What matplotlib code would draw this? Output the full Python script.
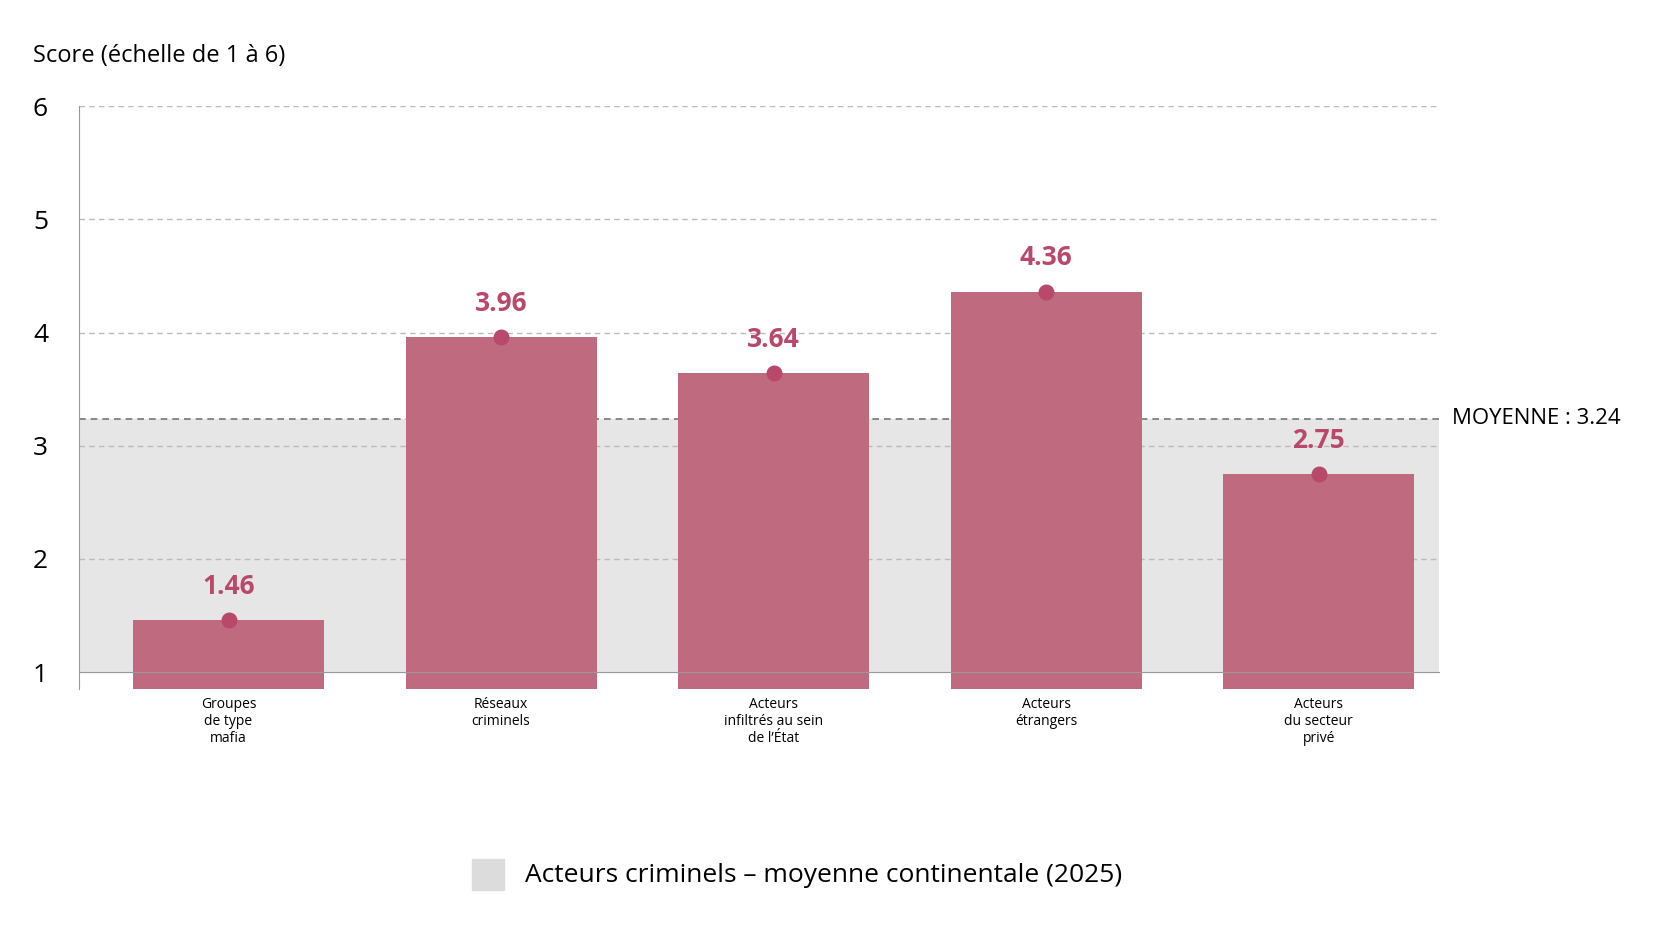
import matplotlib.pyplot as plt
from matplotlib.patches import Rectangle

categories = ["Groupes\nde type\nmafia", "Réseaux\ncriminels", "Acteurs\ninfiltrés au sein\nde l’État",
              "Acteurs\nétrangers", "Acteurs\ndu secteur\nprivé"]
scores = [1.46, 3.96, 3.64, 4.36, 2.75]
moyenne = 3.24

plt.rcParams['font.family'] = ['Open Sans', 'DejaVu Sans']
fig = plt.figure(figsize=(16.73, 9.40), dpi=100)
ax = fig.add_axes([0.047, 0.267, 0.813, 0.62])

pos = list(range(len(scores)))
ax.set_xlim(-0.55, 4.44)
ax.set_ylim(1, 6)

ax.axhspan(1, moyenne, color='#e6e6e6', zorder=0)
for y in [2, 3, 4, 5, 6]:
    ax.axhline(y, color='#bbbbbb', ls=(0, (4, 3)), lw=1, zorder=1)
ax.axhline(moyenne, color='#777777', ls=(0, (4, 3)), lw=1.2, zorder=1)

ax.bar(pos, scores, width=0.7, bottom=0, color='#c06a80', zorder=2)
ax.scatter(pos, scores, s=110, color='#b9496a', zorder=3)
for x, v in zip(pos, scores):
    ax.text(x, v + 0.18, f"{v:.2f}", ha='center', va='bottom', fontsize=19,
            fontweight='bold', color='#b9496a')

ax.text(1.01, moyenne, f"MOYENNE : {moyenne}", transform=ax.get_yaxis_transform(),
        ha='left', va='center', fontsize=16)

ax.set_xticks(pos)
ax.set_xticklabels(categories, fontsize=17, fontweight='bold', linespacing=1.25)
ax.tick_params(axis='x', length=0, pad=18)
ax.set_yticks([1, 2, 3, 4, 5, 6])
ax.tick_params(axis='y', length=0, labelsize=19, pad=22)
for s in ['top', 'right']:
    ax.spines[s].set_visible(False)
ax.spines['bottom'].set_color('#999999')
ax.spines['left'].set_color('#999999')
ax.spines['left'].set_bounds(0.85, 6)
ax.set_ylim(0.85, 6)
ax.spines['bottom'].set_position(('data', 1))

fig.text(0.02, 0.94, "Score (échelle de 1 à 6)", fontsize=17, va='center')

fig.patches.append(Rectangle((0.282, 0.053), 0.019, 0.033, transform=fig.transFigure,
                             color='#dcdcdc'))
fig.text(0.314, 0.069, "Acteurs criminels – moyenne continentale (2025)", fontsize=19,
         va='center')

fig.savefig('out.png', dpi=100)
